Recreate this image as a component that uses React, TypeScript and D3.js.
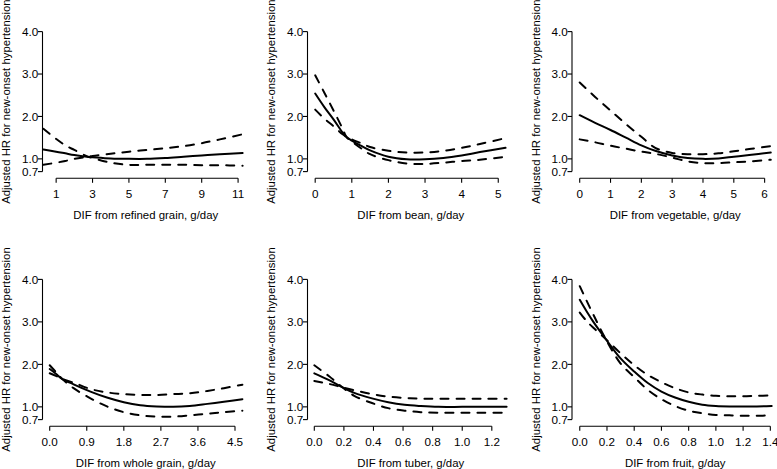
import React, { useEffect, useRef } from 'react';
import * as d3 from 'd3';

// y axis shared by all panels
const hrTicks = [0.7, 1.0, 2.0, 3.0, 4.0];
const yLabel = "Adjusted HR for new-onset hypertension";

// refined grain
const refinedLim = [0.25, 11.6];
const refinedTicks = [1, 3, 5, 7, 9, 11];
const refinedX = [0.3, 1, 1.5, 2, 2.7, 3, 4, 5, 6, 7, 8, 9, 10, 11.25];
const refinedHR = [1.22, 1.17, 1.13, 1.09, 1.05, 1.04, 1.01, 1.0, 1.0, 1.02, 1.05, 1.08, 1.11, 1.14];
const refinedCiA = [1.71, 1.47, 1.32, 1.21, 1.06, 1.02, 0.91, 0.86, 0.86, 0.86, 0.86, 0.85, 0.85, 0.84];
const refinedCiB = [0.86, 0.91, 0.95, 1.0, 1.05, 1.07, 1.12, 1.17, 1.21, 1.25, 1.3, 1.37, 1.46, 1.58];

// bean
const beanLim = [-0.21, 5.43];
const beanTicks = [0, 1, 2, 3, 4, 5];
const beanX = [0, 0.25, 0.5, 0.75, 0.85, 1.0, 1.25, 1.5, 2, 2.5, 3, 3.5, 4, 4.5, 5.2];
const beanHR = [2.54, 2.22, 1.93, 1.62, 1.52, 1.43, 1.31, 1.2, 1.05, 0.99, 0.99, 1.02, 1.08, 1.16, 1.26];
const beanCiA = [2.97, 2.56, 2.14, 1.71, 1.52, 1.41, 1.25, 1.11, 0.97, 0.89, 0.88, 0.91, 0.95, 0.98, 1.05];
const beanCiB = [2.16, 1.95, 1.77, 1.58, 1.52, 1.46, 1.37, 1.28, 1.19, 1.15, 1.15, 1.19, 1.26, 1.35, 1.49];

// vegetable
const vegLim = [-0.25, 6.45];
const vegTicks = [0, 1, 2, 3, 4, 5, 6];
const vegX = [0, 0.5, 1, 1.5, 2, 2.45, 3, 3.5, 4, 4.5, 5, 5.5, 6.2];
const vegHR = [2.03, 1.85, 1.68, 1.5, 1.32, 1.19, 1.08, 1.02, 1.0, 1.01, 1.05, 1.09, 1.15];
const vegCiA = [2.8, 2.46, 2.14, 1.82, 1.52, 1.26, 1.14, 1.11, 1.11, 1.13, 1.18, 1.23, 1.3];
const vegCiB = [1.46, 1.39, 1.31, 1.24, 1.17, 1.12, 1.03, 0.94, 0.9, 0.9, 0.92, 0.94, 0.98];

// whole grain
const wholeLim = [-0.175, 4.84];
const wholeTicks = [0, 0.9, 1.8, 2.7, 3.6, 4.5];
const wholeX = [0, 0.15, 0.3, 0.58, 0.99, 1.39, 1.8, 2.2, 2.6, 3.0, 3.4, 3.83, 4.23, 4.68];
const wholeHR = [1.89, 1.78, 1.66, 1.53, 1.36, 1.22, 1.11, 1.04, 1.01, 1.0, 1.02, 1.07, 1.12, 1.18];
const wholeCiA = [1.98, 1.82, 1.66, 1.44, 1.2, 1.01, 0.875, 0.8, 0.77, 0.77, 0.8, 0.84, 0.875, 0.91];
const wholeCiB = [1.79, 1.73, 1.66, 1.57, 1.42, 1.34, 1.3, 1.28, 1.28, 1.3, 1.32, 1.375, 1.44, 1.52];

// tuber
const tuberLim = [-0.046, 1.35];
const tuberTicks = [0, 0.2, 0.4, 0.6, 0.8, 1.0, 1.2];
const tuberX = [0, 0.1, 0.19, 0.27, 0.39, 0.5, 0.61, 0.72, 0.84, 1.0, 1.15, 1.3];
const tuberHR = [1.79, 1.63, 1.46, 1.33, 1.2, 1.11, 1.05, 1.02, 1.0, 1.0, 1.0, 1.0];
const tuberCiA = [1.98, 1.72, 1.46, 1.26, 1.09, 0.97, 0.91, 0.875, 0.86, 0.86, 0.86, 0.86];
const tuberCiB = [1.61, 1.54, 1.46, 1.39, 1.3, 1.24, 1.21, 1.195, 1.19, 1.19, 1.19, 1.19];

// fruit
const fruitLim = [-0.057, 1.46];
const fruitTicks = [0, 0.2, 0.4, 0.6, 0.8, 1.0, 1.2, 1.4];
const fruitX = [0, 0.05, 0.1, 0.19, 0.3, 0.4, 0.5, 0.6, 0.7, 0.8, 0.9, 1.0, 1.1, 1.2, 1.3, 1.41];
const fruitHR = [3.52, 3.25, 3.0, 2.6, 2.14, 1.83, 1.56, 1.36, 1.22, 1.12, 1.05, 1.02, 1.01, 1.01, 1.01, 1.02];
const fruitCiA = [3.84, 3.5, 3.17, 2.6, 2.02, 1.7, 1.4, 1.18, 1.02, 0.91, 0.85, 0.81, 0.8, 0.79, 0.79, 0.8];
const fruitCiB = [3.22, 3.02, 2.86, 2.6, 2.26, 1.98, 1.75, 1.58, 1.44, 1.34, 1.29, 1.26, 1.25, 1.25, 1.26, 1.27];

const intFmt = d3.format("d");
const oneDec = d3.format(".1f");

const panels = [
  { title: "DIF from refined grain, g/day", lim: refinedLim, ticks: refinedTicks, fmt: intFmt, x: refinedX, hr: refinedHR, a: refinedCiA, b: refinedCiB },
  { title: "DIF from bean, g/day", lim: beanLim, ticks: beanTicks, fmt: intFmt, x: beanX, hr: beanHR, a: beanCiA, b: beanCiB },
  { title: "DIF from vegetable, g/day", lim: vegLim, ticks: vegTicks, fmt: intFmt, x: vegX, hr: vegHR, a: vegCiA, b: vegCiB },
  { title: "DIF from whole grain, g/day", lim: wholeLim, ticks: wholeTicks, fmt: oneDec, x: wholeX, hr: wholeHR, a: wholeCiA, b: wholeCiB },
  { title: "DIF from tuber, g/day", lim: tuberLim, ticks: tuberTicks, fmt: oneDec, x: tuberX, hr: tuberHR, a: tuberCiA, b: tuberCiB },
  { title: "DIF from fruit, g/day", lim: fruitLim, ticks: fruitTicks, fmt: oneDec, x: fruitX, hr: fruitHR, a: fruitCiA, b: fruitCiB },
];

const width = 777;
const height = 469;
const colLeft = [42.5, 307.5, 572];
const plotW = 206.5;
const rowTop = [31.6, 279.4];   // y of 4.0
const rowBottom = [171.6, 419.6]; // y of 0.7
const axisGap = 6.7;
const font = "'Liberation Sans', Arial, Helvetica, sans-serif";
const fontSize = "11.4px";
const tickSize = "11.7px";

export default function App() {
  const svgRef = useRef<SVGSVGElement>(null);

  useEffect(() => {
    if (!svgRef.current) return;
    const svg = d3.select(svgRef.current);
    svg.selectAll("*").remove();

    svg.append("rect").attr("width", width).attr("height", height).attr("fill", "#ffffff");

    panels.forEach((p, i) => {
      const col = i % 3;
      const row = Math.floor(i / 3);
      const left = colLeft[col];
      const x = d3.scaleLinear().domain(p.lim).range([left, left + plotW]);
      const y = d3.scaleLinear().domain([0.7, 4.0]).range([rowBottom[row], rowTop[row]]);
      const axisY = rowBottom[row] + axisGap;

      const g = svg.append("g");

      // y axis (R style: line spans first to last tick)
      g.append("line")
        .attr("x1", left).attr("x2", left)
        .attr("y1", y(hrTicks[0])).attr("y2", y(hrTicks[hrTicks.length - 1]))
        .attr("stroke", "#000").attr("stroke-width", 1.1);
      hrTicks.forEach(t => {
        g.append("line").attr("x1", left - 4.5).attr("x2", left).attr("y1", y(t)).attr("y2", y(t))
          .attr("stroke", "#000").attr("stroke-width", 1.1);
        g.append("text").attr("x", left - 4.3).attr("y", y(t)).attr("dy", "0.36em")
          .attr("text-anchor", "end").attr("font-family", font).attr("font-size", tickSize)
          .attr("fill", "#000").text(oneDec(t));
      });

      // x axis
      const t0 = p.ticks[0];
      const t1 = p.ticks[p.ticks.length - 1];
      g.append("line").attr("x1", x(t0)).attr("x2", x(t1)).attr("y1", axisY).attr("y2", axisY)
        .attr("stroke", "#000").attr("stroke-width", 1.1);
      p.ticks.forEach(t => {
        g.append("line").attr("x1", x(t)).attr("x2", x(t)).attr("y1", axisY).attr("y2", axisY + 4.5)
          .attr("stroke", "#000").attr("stroke-width", 1.1);
        g.append("text").attr("x", x(t)).attr("y", axisY + 19.6)
          .attr("text-anchor", "middle").attr("font-family", font).attr("font-size", tickSize)
          .attr("fill", "#000").text(p.fmt(t));
      });

      // titles
      g.append("text").attr("x", left + plotW / 2).attr("y", axisY + 40.5)
        .attr("text-anchor", "middle").attr("font-family", font).attr("font-size", fontSize)
        .attr("fill", "#000").text(p.title);

      const midY = (rowTop[row] + rowBottom[row]) / 2;
      g.append("text")
        .attr("transform", `translate(${left - 32.3},${midY}) rotate(-90)`)
        .attr("text-anchor", "middle").attr("font-family", font).attr("font-size", fontSize)
        .attr("fill", "#000").text(yLabel);

      // curves
      const line = d3.line<[number, number]>()
        .x(d => x(d[0])).y(d => y(d[1])).curve(d3.curveCatmullRom.alpha(0.5));
      const series = (vals: number[]) => p.x.map((xv, k) => [xv, vals[k]] as [number, number]);

      [p.a, p.b].forEach(vals => {
        g.append("path").attr("d", line(series(vals)))
          .attr("fill", "none").attr("stroke", "#000").attr("stroke-width", 2)
          .attr("stroke-dasharray", "8,8").attr("stroke-linecap", "round");
      });
      g.append("path").attr("d", line(series(p.hr)))
        .attr("fill", "none").attr("stroke", "#000").attr("stroke-width", 2)
        .attr("stroke-linecap", "round");
    });
  }, []);

  return (
    <svg ref={svgRef} width={width} height={height} viewBox={`0 0 ${width} ${height}`}
      style={{ position: "absolute", left: 0, top: 0, display: "block" }} />
  );
}
